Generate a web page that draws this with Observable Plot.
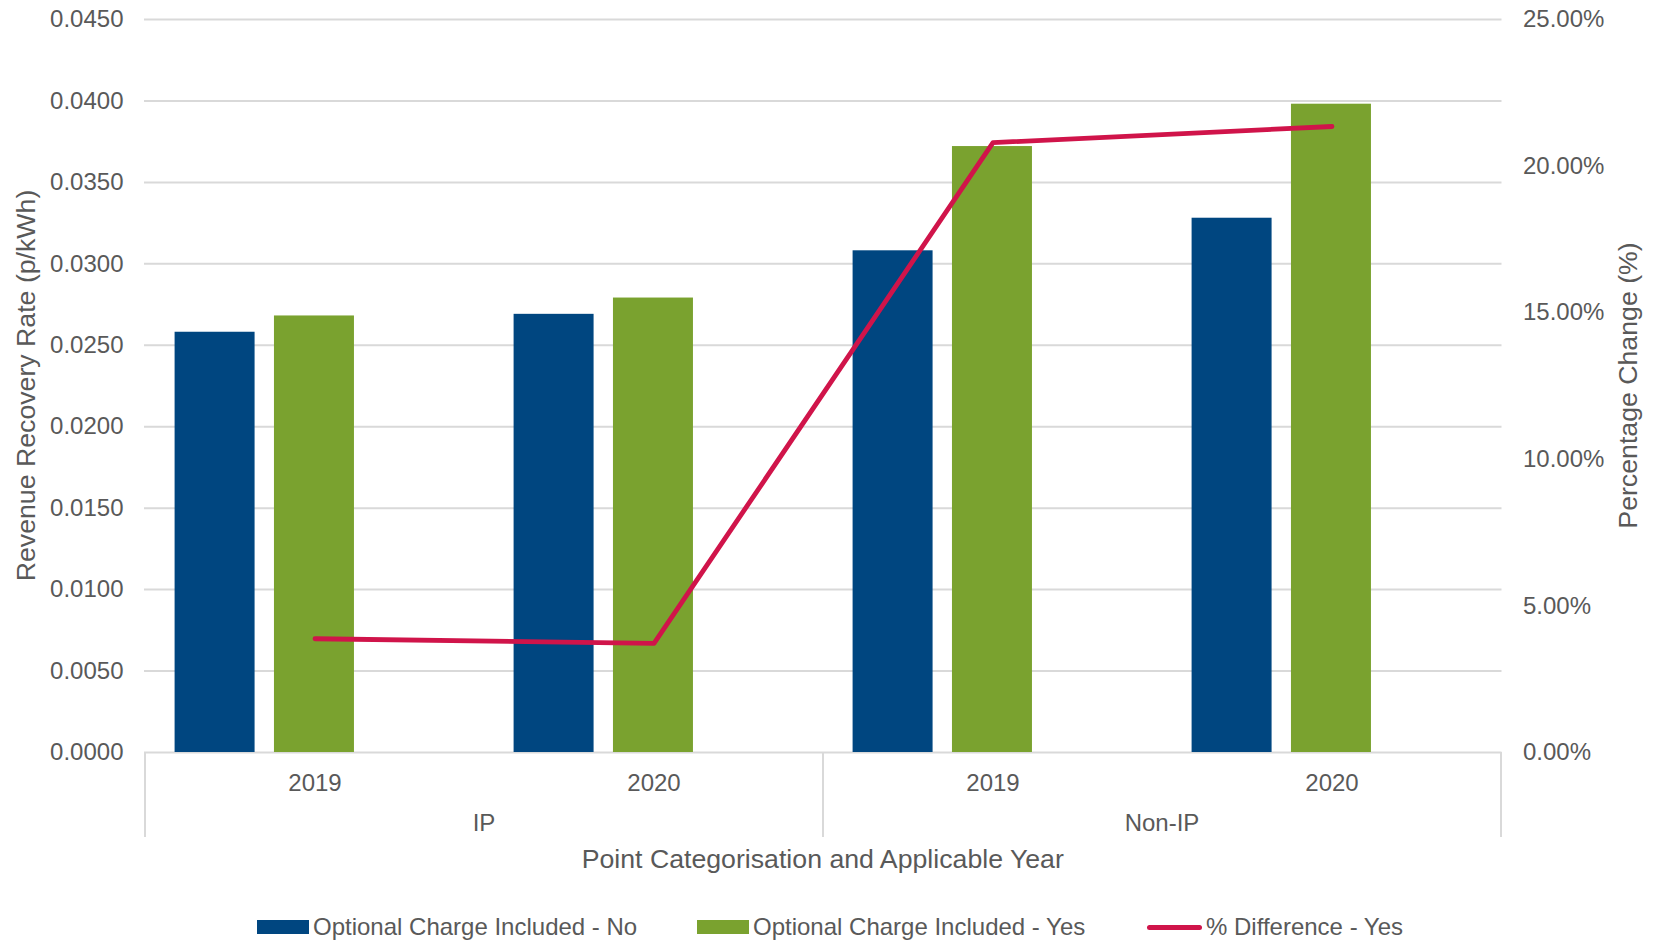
<!DOCTYPE html>
<html>
<head>
<meta charset="utf-8">
<script src="https://cdn.jsdelivr.net/npm/d3@7"></script>
<script src="https://cdn.jsdelivr.net/npm/@observablehq/plot@0.6"></script>
<style>
  html, body { margin: 0; padding: 0; background: #fff; }
  #wrap { position: relative; width: 1658px; height: 943px; font-family: "Liberation Sans", Arial, sans-serif; color: #595959; }
  #legend { position: relative; height: 30px; margin-top: 32px; font-size: 24px; }
  .item { position: absolute; top: 0; height: 30px; display: flex; align-items: center; white-space: nowrap; }
  .sw { display: inline-block; margin-right: 4px; }
</style>
</head>
<body>
<div id="wrap">
  <div id="chart"></div>
  <div id="legend"></div>
</div>
<script>
// ---- data ----
const groups = ["IP", "IP", "Non-IP", "Non-IP"];
const years = ["2019", "2020", "2019", "2020"];
const chargeNo = [0.0258, 0.0269, 0.0308, 0.0328];
const chargeYes = [0.0268, 0.0279, 0.0372, 0.0398];
const pctDiff = [3.88, 3.72, 20.8, 21.35];
const leftTicks = [0, 0.005, 0.010, 0.015, 0.020, 0.025, 0.030, 0.035, 0.040, 0.045];
const rightTicks = [0, 5, 10, 15, 20, 25];
const seriesNames = ["Optional Charge Included - No", "Optional Charge Included - Yes", "% Difference - Yes"];
const xTitle = "Point Categorisation and Applicable Year";
const yTitle = "Revenue Recovery Rate (p/kWh)";
const y2Title = "Percentage Change (%)";

// ---- styles ----
const BLUE = "#004680", GREEN = "#7aa22f", RED = "#d0144a", GRID = "#d9d9d9", TEXT = "#595959";
const W = 1658, H = 880;
const mL = 144, mR = 156.5, mT = 19, mB = 128;
const band = (W - mL - mR) / 4;
const off = 0.0872, step = 0.2928, bw = 0.2368;
const k = 0.045 / 25; // percent -> left axis units
const TITLE_FS = "26.7px";

const keys = groups.map((g, i) => g + " " + years[i]);
const rows = keys.map((key, i) => ({ key, year: years[i], group: groups[i], no: chargeNo[i], yes: chargeYes[i], pct: pctDiff[i] }));
const yearOf = Object.fromEntries(rows.map(r => [r.key, r.year]));

const chart = Plot.plot({
  width: W, height: H,
  marginLeft: mL, marginRight: mR, marginTop: mT, marginBottom: mB,
  style: { fontFamily: '"Liberation Sans", Arial, sans-serif', fontSize: "24px", color: TEXT, background: "#fff" },
  x: { type: "band", domain: keys, padding: 0 },
  y: { domain: [0, 0.045] },
  marks: [
    Plot.gridY(leftTicks, { stroke: GRID, strokeOpacity: 1, strokeWidth: 2 }),
    Plot.barY(rows, { x: "key", y: "no", fill: BLUE, insetLeft: band * off, insetRight: band * (1 - off - bw) }),
    Plot.barY(rows, { x: "key", y: "yes", fill: GREEN, insetLeft: band * (off + step), insetRight: band * (1 - off - step - bw) }),
    Plot.line(rows, { x: "key", y: d => d.pct * k, stroke: RED, strokeWidth: 4.8, strokeLinecap: "round", strokeLinejoin: "round" }),
    Plot.axisY(leftTicks, { anchor: "left", tickSize: 0, tickPadding: 21, tickFormat: d => d.toFixed(4), label: null }),
    Plot.axisY(rightTicks.map(p => p * k), { anchor: "right", tickSize: 0, tickPadding: 21, tickFormat: d => (d / k).toFixed(2) + "%", label: null }),
    Plot.axisX({ tickSize: 0, tickPadding: 21, tickFormat: d => yearOf[d], label: null })
  ]
});
document.getElementById("chart").appendChild(chart);

// ---- category hierarchy decorations, titles (using the plot's own x scale) ----
const xs = chart.scale("x");
const bwid = xs.bandwidth;
const svg = d3.select(chart);
const y0 = H - mB;
const seps = [xs.apply(keys[0]), xs.apply(keys[2]), xs.apply(keys[3]) + bwid];
svg.append("g").selectAll("line").data(seps).join("line")
  .attr("x1", d => d).attr("x2", d => d).attr("y1", y0).attr("y2", y0 + 85)
  .attr("stroke", GRID).attr("stroke-width", 2);
const groupNames = Array.from(new Set(groups));
svg.append("g").selectAll("text").data(groupNames).join("text")
  .attr("x", g => { const ks = keys.filter((kk, i) => groups[i] === g); return (xs.apply(ks[0]) + xs.apply(ks[ks.length - 1]) + bwid) / 2; })
  .attr("y", y0 + 71).attr("dy", "0.35em").attr("text-anchor", "middle")
  .attr("fill", TEXT).attr("font-size", "24px").text(g => g);
svg.append("text").attr("x", mL + (W - mL - mR) / 2).attr("y", y0 + 107).attr("dy", "0.35em")
  .attr("text-anchor", "middle").attr("fill", TEXT).attr("font-size", TITLE_FS).text(xTitle);
const yc = mT + (H - mT - mB) / 2;
svg.append("text").attr("transform", `translate(26,${yc}) rotate(-90)`).attr("dy", "0.35em")
  .attr("text-anchor", "middle").attr("fill", TEXT).attr("font-size", TITLE_FS).text(yTitle);
svg.append("text").attr("transform", `translate(1628,${yc}) rotate(-90)`).attr("dy", "0.35em")
  .attr("text-anchor", "middle").attr("fill", TEXT).attr("font-size", TITLE_FS).text(y2Title);

// ---- legend ----
const legend = d3.select("#legend");
const legendItems = [
  { name: seriesNames[0], color: BLUE, type: "rect", left: 257 },
  { name: seriesNames[1], color: GREEN, type: "rect", left: 697 },
  { name: seriesNames[2], color: RED, type: "line", left: 1147 }
];
legendItems.forEach(it => {
  const d = legend.append("div").attr("class", "item").style("left", it.left + "px");
  if (it.type === "rect") {
    d.append("span").attr("class", "sw").style("width", "52px").style("height", "14px").style("background", it.color);
  } else {
    d.append("span").attr("class", "sw").style("width", "55px").style("height", "5px").style("border-radius", "3px").style("background", it.color);
  }
  d.append("span").text(it.name);
});
</script>
</body>
</html>
